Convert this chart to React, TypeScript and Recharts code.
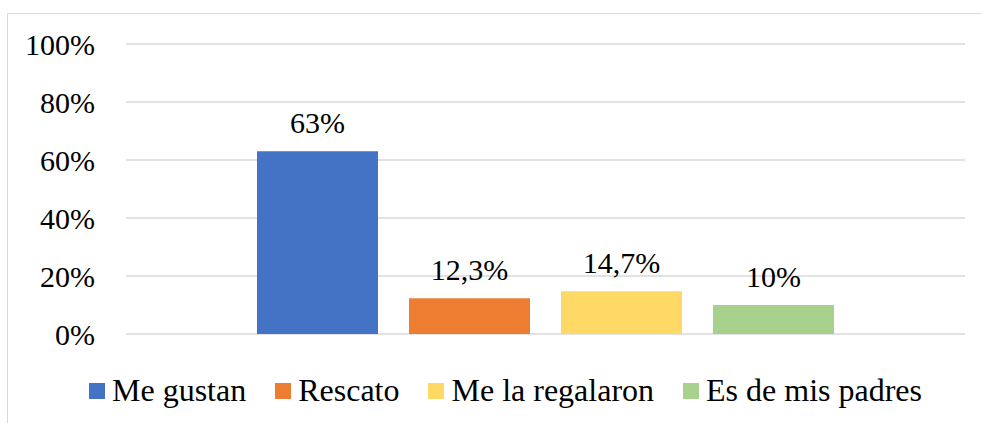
import React from 'react';
import { BarChart, Bar, XAxis, YAxis, CartesianGrid, LabelList } from 'recharts';

const seriesNames = ['Me gustan', 'Rescato', 'Me la regalaron', 'Es de mis padres'];
const seriesValues = [63, 12.3, 14.7, 10];
const seriesColors = ['#4472C4', '#ED7D31', '#FFD966', '#A9D18E'];
const yTicks = [0, 20, 40, 60, 80, 100];

const row: Record<string, number | string> = { name: '' };
seriesNames.forEach((n, i) => {
  row[n] = seriesValues[i];
});
const data = [row];

const font = 'Liberation Serif, Times New Roman, serif';
const fmt = (v: any) => String(v).replace('.', ',') + '%';

const App: React.FC = () => {
  return (
    <div style={{ position: 'absolute', left: 0, top: 0, width: 981, height: 423, background: '#fff', fontFamily: font }}>
      <div
        style={{
          position: 'absolute',
          left: 7,
          top: 13,
          width: 980,
          height: 420,
          border: '1px solid #d9d9d9',
          boxSizing: 'border-box',
        }}
      />
      <BarChart
        width={981}
        height={423}
        data={data}
        margin={{ top: 44, right: 16, bottom: 89, left: 0 }}
        barSize={121}
        barGap={31}
        style={{ position: 'absolute', left: 0, top: 0 }}
      >
        <CartesianGrid vertical={false} stroke="#d9d9d9" strokeWidth={1.4} />
        <XAxis dataKey="name" hide />
        <YAxis
          width={126}
          domain={[0, 100]}
          ticks={yTicks}
          tickFormatter={(v) => v + '%'}
          axisLine={false}
          tickLine={false}
          tickMargin={25}
          tick={{ fill: '#000', fontSize: 30, fontFamily: font }}
        />
        {seriesNames.map((n, i) => (
          <Bar key={n} dataKey={n} fill={seriesColors[i]} isAnimationActive={false}>
            <LabelList
              dataKey={n}
              position="top"
              offset={18}
              formatter={fmt}
              fontFamily={font}
              fontSize={30}
              fill="#000"
            />
          </Bar>
        ))}
      </BarChart>
      <div
        style={{
          position: 'absolute',
          left: 0,
          top: 372,
          width: 1011,
          display: 'flex',
          justifyContent: 'center',
          alignItems: 'center',
          fontSize: 32,
          color: '#000',
          whiteSpace: 'nowrap',
        }}
      >
        {seriesNames.map((n, i) => (
          <div key={n} style={{ display: 'flex', alignItems: 'center', marginRight: i < seriesNames.length - 1 ? 29 : 0 }}>
            <span style={{ display: 'inline-block', width: 16, height: 16, background: seriesColors[i], marginRight: 7 }} />
            <span>{n}</span>
          </div>
        ))}
      </div>
    </div>
  );
};

export default App;
